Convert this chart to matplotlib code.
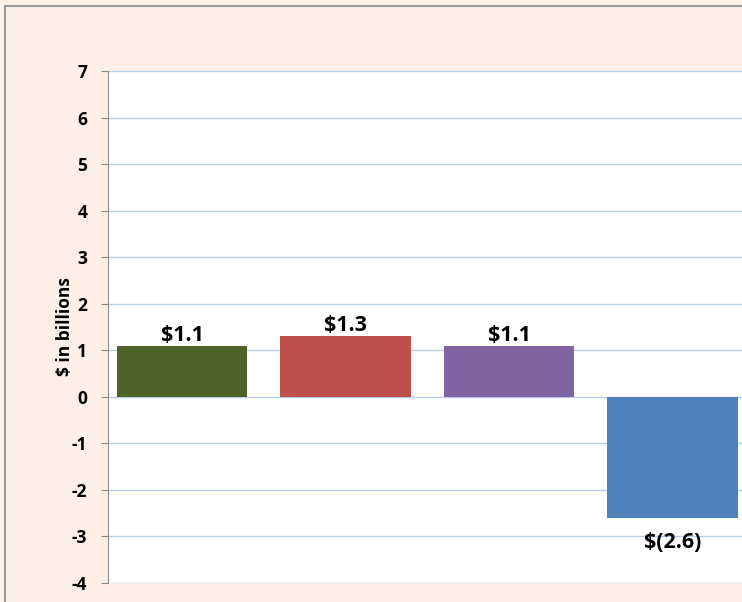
import matplotlib.pyplot as plt
from matplotlib.patches import Rectangle

categories = ["A", "B", "C", "D"]
values = [1.1, 1.3, 1.1, -2.6]
labels = ["$1.1", "$1.3", "$1.1", "$(2.6)"]
colors = ["#4F6228", "#C0504D", "#8064A2", "#4F81BD"]
yticks = [7, 6, 5, 4, 3, 2, 1, 0, -1, -2, -3, -4]

plt.rcParams["font.family"] = ["Open Sans", "DejaVu Sans"]

fig = plt.figure(figsize=(7.42, 6.02), dpi=100, facecolor="#FDEFE5")
# chart border (cropped at right and bottom)
fig.patches.append(Rectangle((5 / 742, -0.05), 1.1, 1 - 6 / 602 + 0.05,
                             transform=fig.transFigure, fill=False,
                             edgecolor="#9A9A9A", linewidth=1.5))

ax = fig.add_axes([108 / 742, 1 - 583 / 602, 1 - 108 / 742, (583 - 71) / 602])
ax.set_facecolor("white")

x = range(len(categories))
ax.bar(x, values, width=0.8, color=colors, zorder=3)

for i, (v, lab) in enumerate(zip(values, labels)):
    if v >= 0:
        ax.text(i, v + 0.0, lab, ha="center", va="bottom", fontsize=15.5,
                fontweight="bold", zorder=4)
    else:
        ax.text(i, v - 0.3, lab, ha="center", va="top", fontsize=15.5,
                fontweight="bold", zorder=4)

ax.set_xlim(-0.453, 3.425)
ax.set_ylim(-4, 7)
ax.set_yticks(yticks)
ax.set_yticklabels([str(t) for t in yticks], fontsize=12.5, fontweight="bold")
ax.set_xticks([])
ax.yaxis.grid(True, color="#B9CDE5", linewidth=1, zorder=0)
for s in ["top", "right", "bottom"]:
    ax.spines[s].set_visible(False)
ax.spines["left"].set_color("#8C8C8C")
ax.tick_params(axis="y", length=5, color="#8C8C8C", pad=10)

ax.set_ylabel("$ in billions", fontsize=12.5, fontweight="bold", labelpad=-2)

fig.savefig("out.png", dpi=100, facecolor=fig.get_facecolor())
